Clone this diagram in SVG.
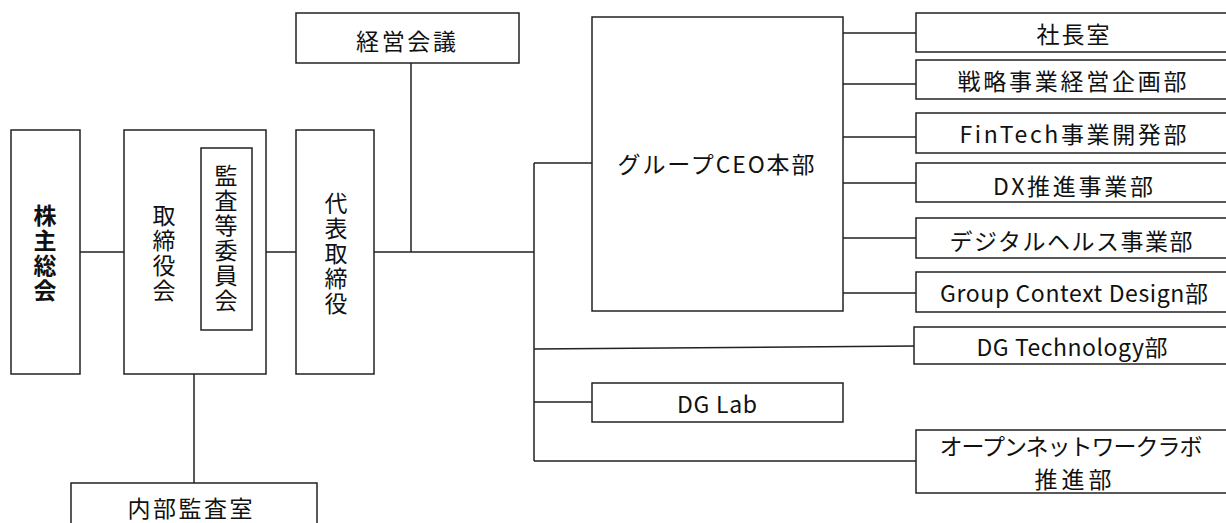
<svg xmlns="http://www.w3.org/2000/svg" width="1226" height="523" viewBox="0 0 1226 523">
<style>
.b{fill:#fff;stroke:#222;stroke-width:1.5}
.c{fill:none;stroke:#222;stroke-width:1.5}
text{font-family:"Noto Sans CJK JP","Noto Sans",sans-serif;font-size:23px;fill:#111}
.h{text-anchor:middle}
.v{text-anchor:middle;writing-mode:vertical-rl;font-size:23px;letter-spacing:2px}
</style>
<rect width="1226" height="523" fill="#fff"/>
<g id="connectors">
<path class="c" d="M80 252H124M266 252H296M374 252H534M411 63V252M194 374V483M534 163V461M534 163H592M534 402H592M534 461H916M534 349L916 346"/>
<path class="c" d="M843 33H916M843 84H916M843 137H916M843 183H916M843 238H916M843 293H916"/>
</g>
<g id="n-kabunushi"><rect class="b" x="11" y="130" width="69" height="244"/>
<text class="v" x="45" y="254" font-weight="bold">株主総会</text></g>
<g id="n-torishimariyakukai"><rect class="b" x="124" y="130" width="142" height="244"/>
<text class="v" x="164" y="254">取締役会</text></g>
<g id="n-kansa"><rect class="b" x="201" y="148" width="51" height="182"/>
<text class="v" x="226" y="239">監査等委員会</text></g>
<g id="n-daihyo"><rect class="b" x="296" y="130" width="78" height="244"/>
<text class="v" x="336" y="254" letter-spacing="3">代表取締役</text></g>
<g id="n-keiei"><rect class="b" x="296" y="13" width="223" height="50"/>
<text class="h" x="406" y="50" textLength="100" lengthAdjust="spacing">経営会議</text></g>
<g id="n-naibu"><rect class="b" x="71" y="483" width="246" height="50"/>
<text class="h" x="190" y="517" textLength="125" lengthAdjust="spacing">内部監査室</text></g>
<g id="n-ceo"><rect class="b" x="592" y="17" width="251" height="294"/>
<text class="h" x="716" y="173" textLength="197" lengthAdjust="spacing">グループCEO本部</text></g>
<g id="n-shacho"><rect class="b" x="916" y="13" width="320" height="39"/>
<text class="h" x="1073" y="43" textLength="73" lengthAdjust="spacing">社長室</text></g>
<g id="n-senryaku"><rect class="b" x="916" y="60" width="320" height="39"/>
<text class="h" x="1072" y="90" textLength="229" lengthAdjust="spacing">戦略事業経営企画部</text></g>
<g id="n-fintech"><rect class="b" x="916" y="113" width="320" height="40"/>
<text class="h" x="1073" y="143" textLength="227" lengthAdjust="spacing">FinTech事業開発部</text></g>
<g id="n-dx"><rect class="b" x="916" y="163" width="320" height="39"/>
<text class="h" x="1073" y="195" textLength="160" lengthAdjust="spacing">DX推進事業部</text></g>
<g id="n-health"><rect class="b" x="916" y="218" width="320" height="40"/>
<text class="h" x="1071" y="250" textLength="243" lengthAdjust="spacing">デジタルヘルス事業部</text></g>
<g id="n-gcd"><rect class="b" x="916" y="272" width="320" height="40"/>
<text class="h" x="1074" y="302" textLength="268" lengthAdjust="spacing">Group Context Design部</text></g>
<g id="n-dgtech"><rect class="b" x="914" y="327" width="322" height="37"/>
<text class="h" x="1072" y="356" textLength="191" lengthAdjust="spacing">DG Technology部</text></g>
<g id="n-dglab"><rect class="b" x="592" y="383" width="251" height="39"/>
<text class="h" x="717" y="413" textLength="80" lengthAdjust="spacing">DG Lab</text></g>
<g id="n-open"><rect class="b" x="916" y="430" width="320" height="63"/>
<text class="h" x="1071" y="455" textLength="263" lengthAdjust="spacing">オープンネットワークラボ</text>
<text class="h" x="1073" y="488" textLength="77" lengthAdjust="spacing">推進部</text></g>
</svg>
